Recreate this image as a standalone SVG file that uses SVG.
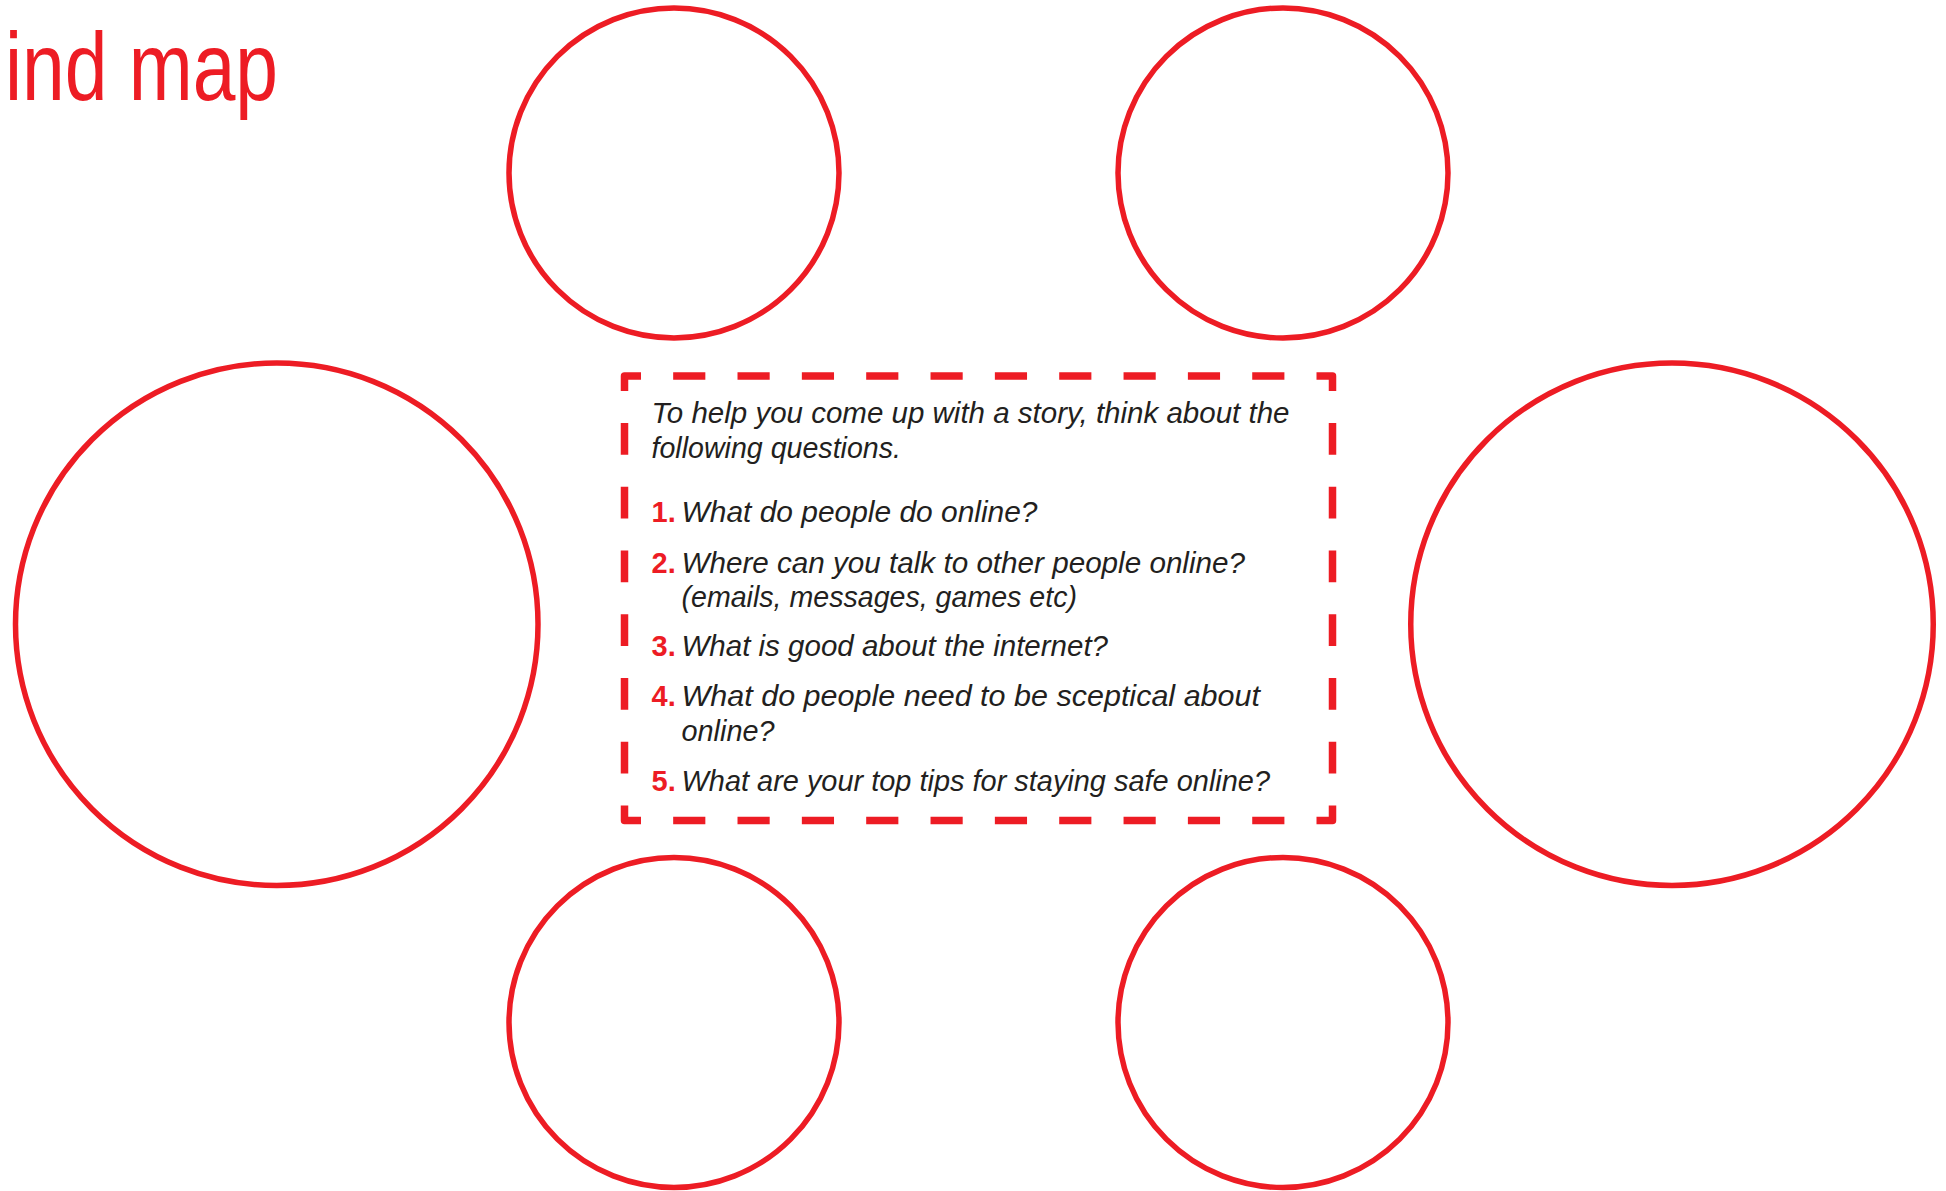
<svg xmlns="http://www.w3.org/2000/svg" width="1946" height="1191" viewBox="0 0 1946 1191">
  <style>
    .bubble { fill: none; stroke: #ED1C24; stroke-width: 5.5; }
    .dash { fill: none; stroke: #ED1C24; stroke-width: 7.5; }
    .corner { fill: none; stroke: #ED1C24; stroke-width: 7.5; stroke-linejoin: round; }
    .txt { font-family: "Liberation Sans", Arial, sans-serif; font-size: 29px; font-style: italic; fill: #231F20; }
    .num { font-family: "Liberation Sans", Arial, sans-serif; font-size: 29px; font-weight: bold; fill: #ED1C24; }
    .title { font-family: "Liberation Sans", Arial, sans-serif; font-size: 96px; fill: #ED1C24; }
  </style>
  <rect x="0" y="0" width="1946" height="1191" fill="#FFFFFF"/>

  <g id="title">
    <text class="title" x="5" y="100" textLength="273" lengthAdjust="spacingAndGlyphs">ind map</text>
  </g>

  <g id="bubble-top-left"><circle class="bubble" cx="674" cy="173" r="165"/></g>
  <g id="bubble-top-right"><circle class="bubble" cx="1283" cy="173" r="165"/></g>
  <g id="bubble-left"><circle class="bubble" cx="276.75" cy="624.25" r="261.25"/></g>
  <g id="bubble-right"><circle class="bubble" cx="1672" cy="624.25" r="261.25"/></g>
  <g id="bubble-bottom-left"><circle class="bubble" cx="674" cy="1022.5" r="165"/></g>
  <g id="bubble-bottom-right"><circle class="bubble" cx="1283" cy="1022.5" r="165"/></g>

  <g id="question-box">
    <path class="corner" d="M624.5,391 V376 H641"/>
    <path class="corner" d="M1316.5,376 H1332.5 V391"/>
    <path class="corner" d="M1332.5,805.5 V820.5 H1316.5"/>
    <path class="corner" d="M641,820.5 H624.5 V805.5"/>
    <line class="dash" x1="641" y1="376" x2="1316.5" y2="376" stroke-dasharray="32.17 32.17" stroke-dashoffset="32.17"/>
    <line class="dash" x1="641" y1="820.5" x2="1316.5" y2="820.5" stroke-dasharray="32.17 32.17" stroke-dashoffset="32.17"/>
    <line class="dash" x1="624.5" y1="391" x2="624.5" y2="805.5" stroke-dasharray="31.88 31.88" stroke-dashoffset="31.88"/>
    <line class="dash" x1="1332.5" y1="391" x2="1332.5" y2="805.5" stroke-dasharray="31.88 31.88" stroke-dashoffset="31.88"/>

    <text class="txt" x="651.5" y="422.5" textLength="638" lengthAdjust="spacingAndGlyphs">To help you come up with a story, think about the</text>
    <text class="txt" x="651.5" y="457.5" textLength="249.5" lengthAdjust="spacingAndGlyphs">following questions.</text>

    <text class="num" x="651.5" y="522">1.</text>
    <text class="txt" x="681.5" y="522" textLength="356" lengthAdjust="spacingAndGlyphs">What do people do online?</text>

    <text class="num" x="651.5" y="572.5">2.</text>
    <text class="txt" x="681.5" y="572.5" textLength="563.5" lengthAdjust="spacingAndGlyphs">Where can you talk to other people online?</text>
    <text class="txt" x="681.5" y="606.5" textLength="395.5" lengthAdjust="spacingAndGlyphs">(emails, messages, games etc)</text>

    <text class="num" x="651.5" y="656">3.</text>
    <text class="txt" x="681.5" y="656" textLength="426.5" lengthAdjust="spacingAndGlyphs">What is good about the internet?</text>

    <text class="num" x="651.5" y="706">4.</text>
    <text class="txt" x="681.5" y="706" textLength="578.5" lengthAdjust="spacingAndGlyphs">What do people need to be sceptical about</text>
    <text class="txt" x="681.5" y="741" textLength="93" lengthAdjust="spacingAndGlyphs">online?</text>

    <text class="num" x="651.5" y="791">5.</text>
    <text class="txt" x="681.5" y="791" textLength="588.5" lengthAdjust="spacingAndGlyphs">What are your top tips for staying safe online?</text>
  </g>
</svg>
